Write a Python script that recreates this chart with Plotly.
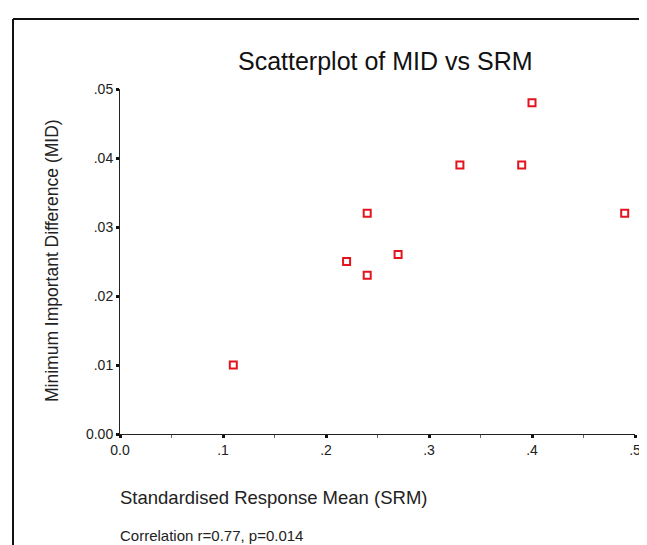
import plotly.graph_objects as go

srm = [0.11, 0.22, 0.24, 0.24, 0.27, 0.33, 0.39, 0.40, 0.49]
mid = [0.010, 0.025, 0.032, 0.023, 0.026, 0.039, 0.039, 0.048, 0.032]

x_tickvals = [0.0, 0.1, 0.2, 0.3, 0.4, 0.5]
x_ticktext = ["0.0", ".1", ".2", ".3", ".4", ".5"]
x_minorvals = [0.05, 0.15, 0.25, 0.35, 0.45]
y_tickvals = [0.0, 0.01, 0.02, 0.03, 0.04, 0.05]
y_ticktext = ["0.00", ".01", ".02", ".03", ".04", ".05"]

title_text = "Scatterplot of MID vs SRM"
x_title = "Standardised Response Mean (SRM)"
y_title = "Minimum Important Difference (MID)"
note_text = "Correlation r=0.77, p=0.014"

FONT = "Liberation Sans, Arial, sans-serif"

W, H = 647, 545
L, R, T, B = 112, 20, 81, 119
pw, ph = W - L - R, H - T - B

def px(xp):
    return (xp - L) / pw

def py(yp):
    return (H - B - yp) / ph

fig = go.Figure()
fig.add_trace(go.Scatter(
    x=srm, y=mid, mode="markers",
    marker=dict(symbol="square-open", size=7, color="#e3141e",
                line=dict(width=2, color="#e3141e")),
    showlegend=False, cliponaxis=False,
))

axis_common = dict(
    showgrid=False, zeroline=False, showline=True, linecolor="#222",
    linewidth=1, ticks="outside", tickcolor="#111", tickwidth=3, ticklen=3,
    tickfont=dict(family=FONT, size=14, color="#222"),
    tickmode="array",
)

fig.update_xaxes(range=[0, 0.5], tickvals=x_tickvals, ticktext=x_ticktext,
                 minor=dict(tickvals=x_minorvals, ticks="outside", ticklen=3,
                            tickwidth=1, tickcolor="#666"),
                 **axis_common)
fig.update_yaxes(range=[0, 0.05], tickvals=y_tickvals, ticktext=y_ticktext,
                 **axis_common)

fig.update_layout(
    width=W, height=H,
    margin=dict(l=L, r=R, t=T, b=B),
    paper_bgcolor="white", plot_bgcolor="white",
    annotations=[
        dict(text=title_text, x=px(377), y=py(53), xref="paper", yref="paper",
             showarrow=False, xanchor="center", yanchor="middle",
             font=dict(family=FONT, size=25, color="#111")),
        dict(text=y_title, x=px(44), y=py(253), xref="paper", yref="paper",
             showarrow=False, xanchor="center", yanchor="middle", textangle=-90,
             font=dict(family=FONT, size=17.5, color="#222")),
        dict(text=x_title, x=px(110), y=py(489), xref="paper", yref="paper",
             showarrow=False, xanchor="left", yanchor="middle",
             font=dict(family=FONT, size=18.5, color="#222")),
        dict(text=note_text, x=px(110), y=py(527), xref="paper", yref="paper",
             showarrow=False, xanchor="left", yanchor="middle",
             font=dict(family=FONT, size=15, color="#222")),
    ],
    shapes=[
        dict(type="line", xref="paper", yref="paper", x0=px(5), x1=px(700),
             y0=py(11), y1=py(11), line=dict(color="#111", width=2)),
        dict(type="line", xref="paper", yref="paper", x0=px(5), x1=px(5),
             y0=py(11), y1=py(600), line=dict(color="#111", width=2)),
    ],
)

fig.write_html("out.html")
